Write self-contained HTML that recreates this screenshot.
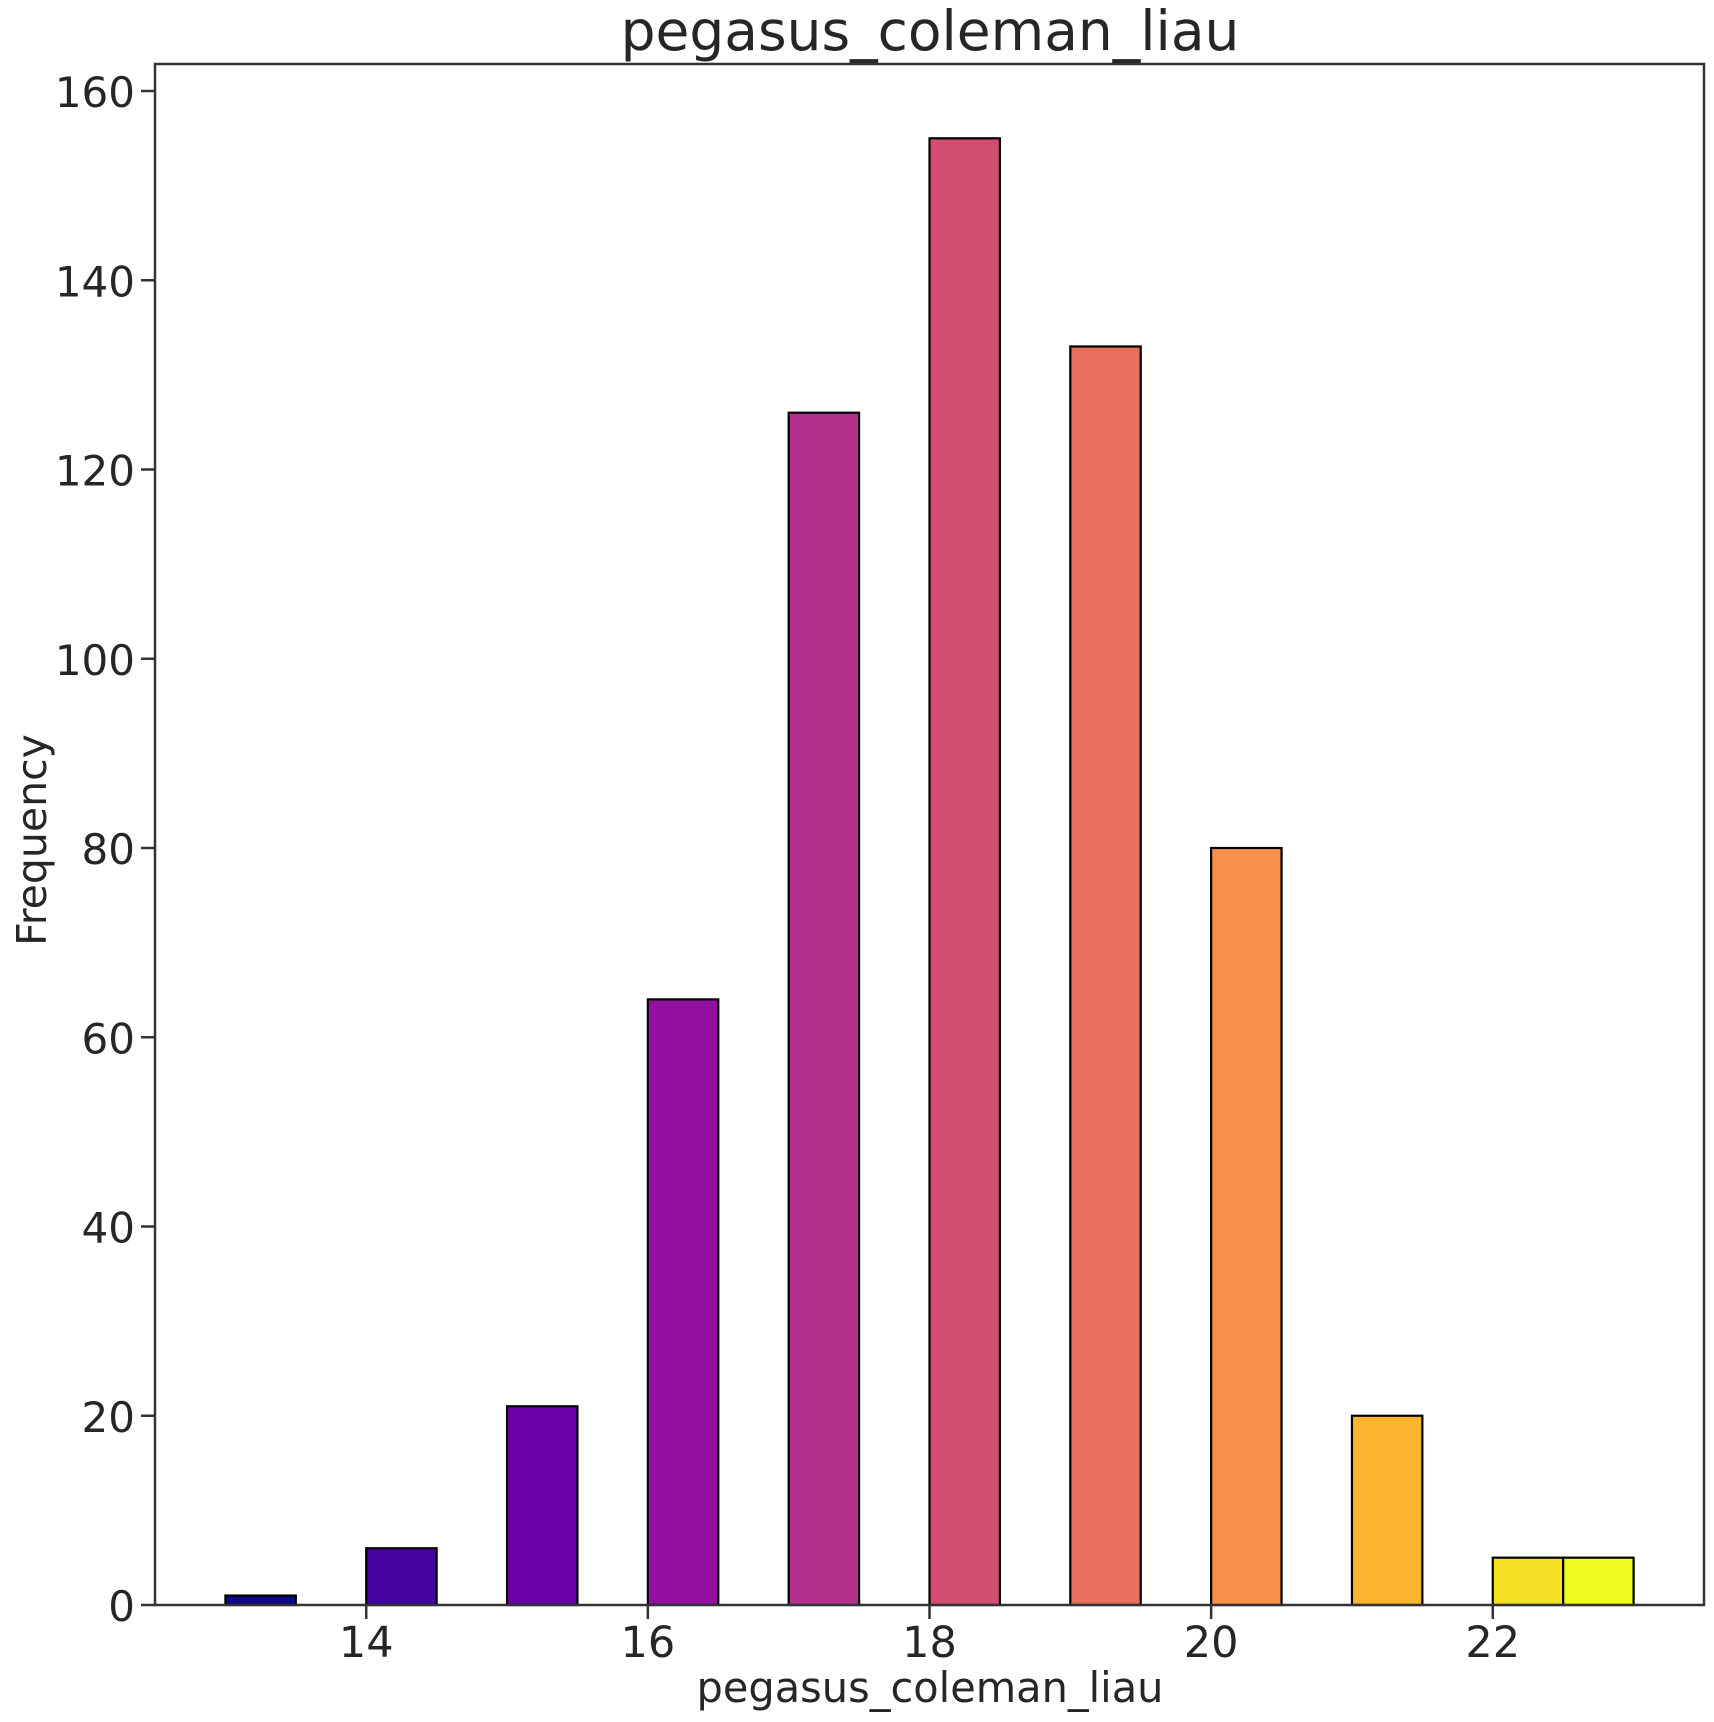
<!DOCTYPE html>
<html><head><meta charset="utf-8"><style>
html,body{margin:0;padding:0;background:#fff;}
svg{display:block;font-family:"DejaVu Sans","Liberation Sans",sans-serif;}
</style></head><body>
<svg id="chart" width="1714" height="1722">
<text x="930" y="50" font-size="55" fill="#262626" text-anchor="middle">pegasus_coleman_liau</text>
<text x="930" y="1702" font-size="41.5" fill="#262626" text-anchor="middle">pegasus_coleman_liau</text>
<text transform="translate(46,840) rotate(-90)" font-size="41" fill="#262626" text-anchor="middle">Frequency</text>
<g id="bars"></g><g id="ticks"></g>
<rect x="155" y="64" width="1549" height="1541" fill="none" stroke="#333" stroke-width="2.5"/>
</svg>
<script>
const binStarts=[13,14,15,16,17,18,19,20,21,22,22.5];
const counts=[1,6,21,64,126,155,133,80,20,5,5];
const binWidth=0.5;
const colors=["#0d0887","#4503a0","#6a00a8","#9410a1","#b52f8c","#d24d71","#e76f5b","#f8914a","#fdb52f","#f5e024","#effa20"];
const xTicks=[14,16,18,20,22];
const yTicks=[0,20,40,60,80,100,120,140,160];
const NS="http://www.w3.org/2000/svg";
const L=155,R=1704,T=64,B=1605;
const X=v=>L+(v-12.5)/(23.5-12.5)*(R-L);
const Y=v=>B-(v/160)*(B-91);
const bars=document.getElementById('bars'),ticks=document.getElementById('ticks');
binStarts.forEach((s,i)=>{
  const r=document.createElementNS(NS,'rect');
  r.setAttribute('x',X(s));r.setAttribute('width',X(s+binWidth)-X(s));
  r.setAttribute('y',Y(counts[i]));r.setAttribute('height',Y(0)-Y(counts[i]));
  r.setAttribute('fill',colors[i]);r.setAttribute('stroke','#000');r.setAttribute('stroke-width','2.2');
  
  
  bars.appendChild(r);
});
xTicks.forEach(v=>{
  const l=document.createElementNS(NS,'line');
  l.setAttribute('x1',X(v));l.setAttribute('x2',X(v));l.setAttribute('y1',B);l.setAttribute('y2',B+14);
  l.setAttribute('stroke','#333');l.setAttribute('stroke-width','2.5');
  
  
  ticks.appendChild(l);
  const t=document.createElementNS(NS,'text');
  t.setAttribute('x',X(v));t.setAttribute('y',B+52);t.setAttribute('font-size','43');t.setAttribute('fill','#262626');t.setAttribute('text-anchor','middle');
  t.textContent=v;
  
  
  ticks.appendChild(t);
});
yTicks.forEach(v=>{
  const l=document.createElementNS(NS,'line');
  l.setAttribute('x1',L-14);l.setAttribute('x2',L);l.setAttribute('y1',Y(v));l.setAttribute('y2',Y(v));
  l.setAttribute('stroke','#333');l.setAttribute('stroke-width','2.5');
  
  
  ticks.appendChild(l);
  const t=document.createElementNS(NS,'text');
  t.setAttribute('x',135);t.setAttribute('y',Y(v)+16);t.setAttribute('font-size','42');t.setAttribute('fill','#262626');t.setAttribute('text-anchor','end');
  t.textContent=v;
  
  
  ticks.appendChild(t);
});
</script>
</body></html>
